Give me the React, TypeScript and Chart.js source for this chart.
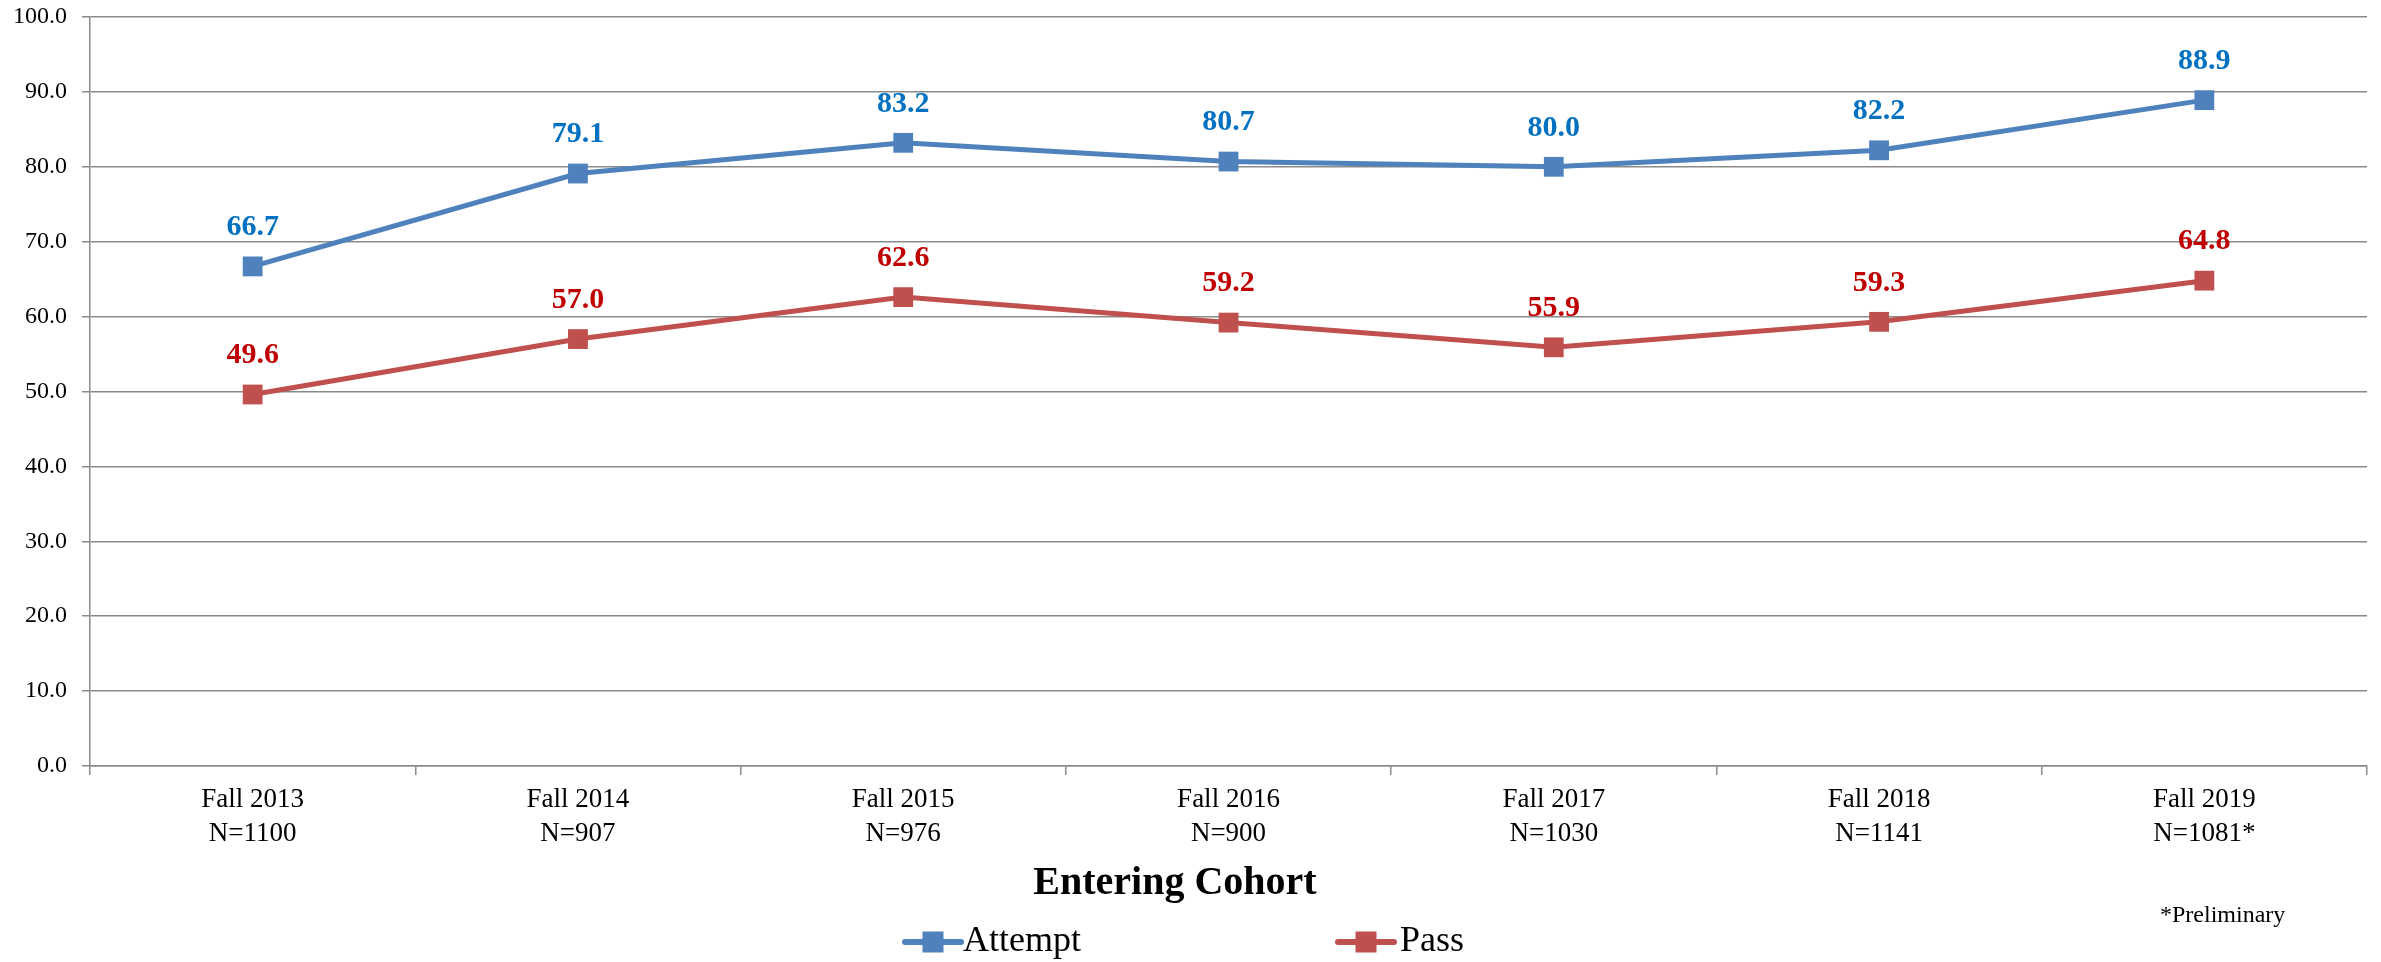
import React, { useEffect, useRef } from "react";
import { Chart, registerables } from "chart.js";

Chart.register(...registerables);

const cohorts = ["Fall 2013", "Fall 2014", "Fall 2015", "Fall 2016", "Fall 2017", "Fall 2018", "Fall 2019"];
const cohortSizes = ["N=1100", "N=907", "N=976", "N=900", "N=1030", "N=1141", "N=1081*"];
const attemptValues = [66.7, 79.1, 83.2, 80.7, 80.0, 82.2, 88.9];
const passValues = [49.6, 57.0, 62.6, 59.2, 55.9, 59.3, 64.8];
const seriesNames = ["Attempt", "Pass"];
const axisTitle = "Entering Cohort";
const footnote = "*Preliminary";

const SERIF = "'Liberation Serif', 'DejaVu Serif', serif";
const GRID = "#8a8a8a";
const LINE_COLORS = ["#4F81BD", "#C0504D"];
const LABEL_COLORS = ["#0070C0", "#C00000"];

const dataLabelsPlugin = {
  id: "dataLabels",
  afterDatasetsDraw(chart: any) {
    const ctx = chart.ctx;
    ctx.save();
    ctx.font = `bold 30px ${SERIF}`;
    ctx.textAlign = "center";
    ctx.textBaseline = "middle";
    chart.data.datasets.forEach((ds: any, i: number) => {
      const meta = chart.getDatasetMeta(i);
      ctx.fillStyle = LABEL_COLORS[i];
      meta.data.forEach((pt: any, j: number) => {
        ctx.fillText(Number(ds.data[j]).toFixed(1), pt.x, pt.y - 39);
      });
    });
    ctx.restore();
  },
};

const decorPlugin = {
  id: "decor",
  afterDraw(chart: any) {
    const ctx = chart.ctx;
    ctx.save();
    ctx.fillStyle = "#000";
    ctx.textBaseline = "middle";
    // axis title
    ctx.font = `bold 40px ${SERIF}`;
    ctx.textAlign = "center";
    ctx.fillText(axisTitle, 1175, 884);
    // footnote
    ctx.font = `24px ${SERIF}`;
    ctx.textAlign = "left";
    ctx.fillText(footnote, 2160, 916);
    // legend
    const items = [
      { x: 905, tx: 963 },
      { x: 1338, tx: 1400 },
    ];
    const ly = 942;
    items.forEach((it, i) => {
      ctx.strokeStyle = LINE_COLORS[i];
      ctx.lineWidth = 6;
      ctx.lineCap = "round";
      ctx.beginPath();
      ctx.moveTo(it.x, ly);
      ctx.lineTo(it.x + 56, ly);
      ctx.stroke();
      ctx.fillStyle = LINE_COLORS[i];
      ctx.fillRect(it.x + 28 - 10.5, ly - 10.5, 21, 21);
      ctx.fillStyle = "#000";
      ctx.font = `36px ${SERIF}`;
      ctx.textAlign = "left";
      ctx.fillText(seriesNames[i], it.tx, ly);
    });
    ctx.restore();
  },
};

export default function App() {
  const canvasRef = useRef<HTMLCanvasElement | null>(null);

  useEffect(() => {
    document.body.style.margin = "0";
    const canvas = canvasRef.current;
    if (!canvas) return;
    const labels = cohorts.map((c, i) => [c, cohortSizes[i]]);
    const chart = new Chart(canvas, {
      type: "line",
      data: {
        labels,
        datasets: [
          {
            label: seriesNames[0],
            data: attemptValues,
            borderColor: LINE_COLORS[0],
            backgroundColor: LINE_COLORS[0],
            borderWidth: 5,
            pointStyle: "rect",
            pointRadius: 14,
            pointBorderWidth: 0,
            tension: 0,
          },
          {
            label: seriesNames[1],
            data: passValues,
            borderColor: LINE_COLORS[1],
            backgroundColor: LINE_COLORS[1],
            borderWidth: 5,
            pointStyle: "rect",
            pointRadius: 14,
            pointBorderWidth: 0,
            tension: 0,
          },
        ],
      },
      options: {
        animation: false,
        responsive: false,
        devicePixelRatio: 1,
        layout: { padding: { top: 17, right: 14, left: 0, bottom: 0 } },
        plugins: {
          legend: { display: false },
          tooltip: { enabled: false },
          title: { display: false },
        },
        scales: {
          x: {
            type: "category",
            offset: true,
            grid: {
              offset: true,
              drawOnChartArea: false,
              drawTicks: true,
              tickLength: 9,
              color: GRID,
              lineWidth: 1.5,
            },
            border: { display: true, color: GRID, width: 1.5 },
            ticks: {
              font: { family: SERIF, size: 27, lineHeight: 1.26 },
              color: "#000",
              padding: 8,
              maxRotation: 0,
              autoSkip: false,
            },
            afterFit(scale: any) {
              scale.height = 196;
              scale.paddingLeft = 0;
              scale.paddingRight = 0;
            },
          },
          y: {
            min: 0,
            max: 100,
            ticks: {
              stepSize: 10,
              font: { family: SERIF, size: 24 },
              color: "#000",
              padding: 15,
              callback: (v: any) => Number(v).toFixed(1),
            },
            grid: { color: GRID, lineWidth: 1.5, tickLength: 8 },
            border: { display: true, color: GRID, width: 1.5 },
            afterFit(scale: any) {
              scale.width = 90;
              scale.paddingTop = 0;
              scale.paddingBottom = 0;
            },
          },
        },
      },
      plugins: [dataLabelsPlugin, decorPlugin],
    } as any);
    return () => chart.destroy();
  }, []);

  return (
    <div style={{ width: 2381, height: 962, background: "#fff" }}>
      <canvas ref={canvasRef} width={2381} height={962} style={{ display: "block" }} />
    </div>
  );
}
